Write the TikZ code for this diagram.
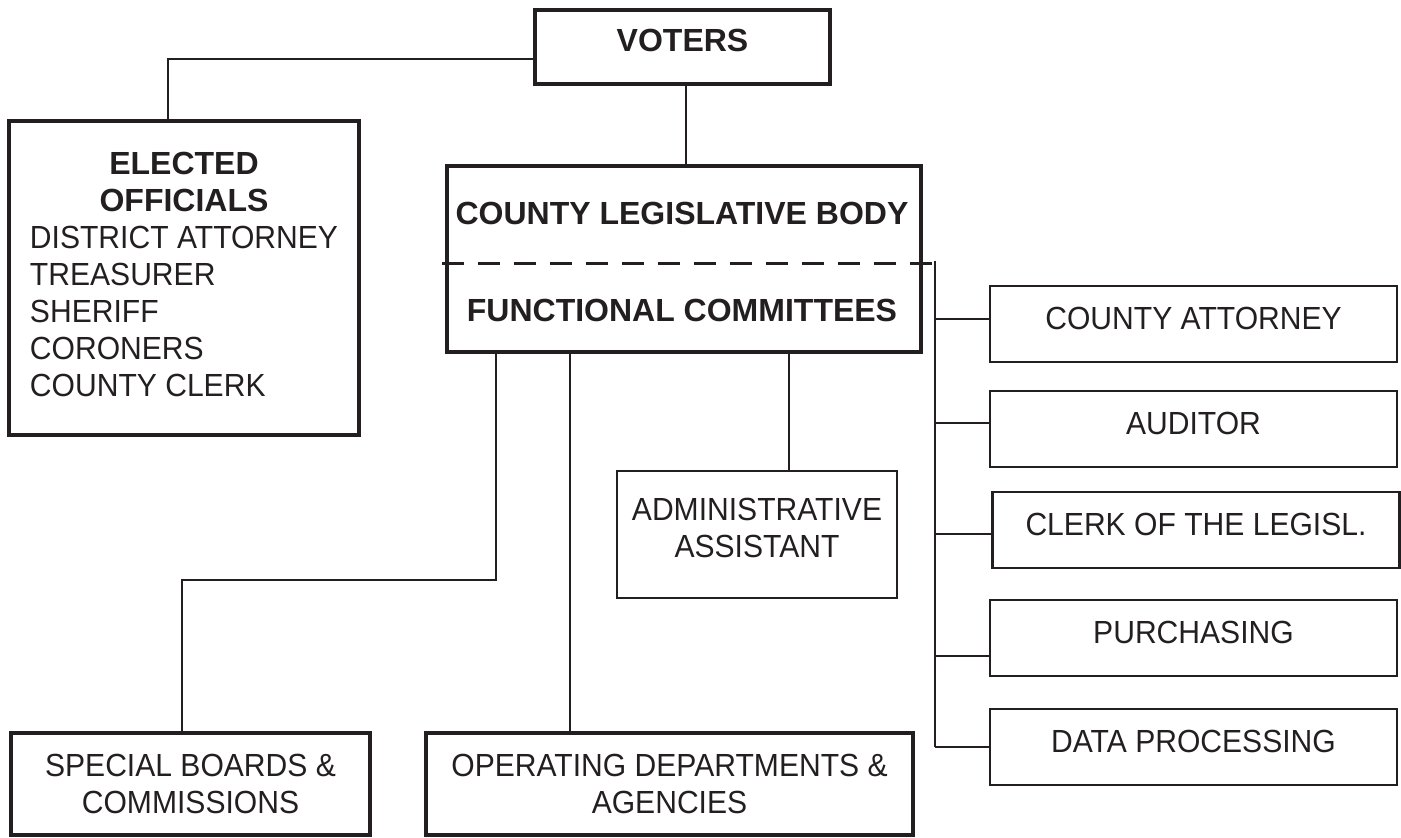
\documentclass[tikz,border=0pt]{standalone}
\usepackage{fontspec}
\setmainfont{Liberation Sans}[UprightFeatures={FakeStretch=0.94}]
\definecolor{ink}{RGB}{35,31,32}

\begin{document}
\begin{tikzpicture}[x=0.5pt, y=-0.5pt,
    every node/.style={font=\fontsize{16}{18.5}\selectfont, text=ink, inner sep=0pt},
    thickbox/.style={draw=ink, line width=2.3pt},
    thinbox/.style={draw=ink, line width=1.1pt},
    officebox/.style={thinbox, minimum width=203.5pt, minimum height=38pt, text depth=6pt},
    heading/.style={font=\fontsize{16}{18.5}\selectfont\bfseries},
    link/.style={draw=ink, line width=1.1pt}]
    \useasboundingbox (0,0) rectangle (1401,838);

    % Voters
    \node[thickbox, heading, minimum width=147.5pt, minimum height=37pt, text depth=7pt] (voters) at (682.5,47) {VOTERS};

    % Elected officials
    \node[thickbox, minimum width=175pt, minimum height=157pt] (elected) at (184,278) {%
        \begin{tabular}{@{}l@{}}
            \multicolumn{1}{@{}c@{}}{\fontsize{16}{18.5}\selectfont\bfseries ELECTED}\\
            \multicolumn{1}{@{}c@{}}{\fontsize{16}{18.5}\selectfont\bfseries OFFICIALS}\\
            DISTRICT ATTORNEY\\
            TREASURER\\
            SHERIFF\\
            CORONERS\\
            COUNTY CLERK
        \end{tabular}};

    % County legislative body
    \node[thickbox, minimum width=237pt, minimum height=93pt] (legis) at (684,259) {};
    \node[heading] (body) at (682,213) {COUNTY LEGISLATIVE BODY};
    \node[heading] (committees) at (682,310) {FUNCTIONAL COMMITTEES};

    % Dashed divider and staff line
    \coordinate (dashL) at (442,264);
    \coordinate (dashR) at (935,264);
    \coordinate (trunkT) at (935,261);
    \coordinate (trunkB) at (935,747);
    \draw[link, line width=1.5pt, dash pattern=on 11pt off 7pt] (dashL) -- (dashR);
    \draw[link] (trunkT) -- (trunkB);

    % Staff offices
    \node[officebox] (cattorney) at (1193.5,324) {COUNTY ATTORNEY};
    \node[officebox] (auditor) at (1193.5,429) {AUDITOR};
    \node[officebox] (clerk) at (1196,530) {CLERK OF THE LEGISL.};
    \node[officebox] (purchasing) at (1193.5,638) {PURCHASING};
    \node[officebox] (dataproc) at (1193.5,747) {DATA PROCESSING};

    % Administrative assistant
    \node[thinbox, align=center, minimum width=140pt, minimum height=63.5pt, text depth=7pt] (admin) at (757,534.5) {ADMINISTRATIVE\\ASSISTANT};

    % Boards and departments
    \node[thickbox, align=center, minimum width=179.5pt, minimum height=51pt] (boards) at (190.5,784) {SPECIAL BOARDS \&\\COMMISSIONS};
    \node[thickbox, align=center, minimum width=243.5pt, minimum height=51pt] (depts) at (669.5,784) {OPERATING DEPARTMENTS \&\\AGENCIES};

    % Connectors
    \draw[link] ([yshift=-6pt]voters.west) -| ([xshift=-8pt]elected.north);
    \draw[link] ([xshift=1.75pt]voters.south) -- ([xshift=1.75pt]legis.north -| voters.south);

    \coordinate (dropB) at (496,580);
    \coordinate (jogB) at (182,580);
    \coordinate (dropD) at (570,0);
    \coordinate (dropA) at (789,0);
    \draw[link] (legis.south -| dropB) -- (dropB) -- (jogB) -- (jogB |- boards.north);
    \draw[link] (legis.south -| dropD) -- (depts.north -| dropD);
    \draw[link] (legis.south -| dropA) -- (admin.north -| dropA);

    \draw[link] ([yshift=2.5pt]cattorney.west) -- ([yshift=2.5pt]cattorney.west -| trunkT);
    \draw[link] ([yshift=3pt]auditor.west) -- ([yshift=3pt]auditor.west -| trunkT);
    \draw[link] ([yshift=-2pt]clerk.west) -- ([yshift=-2pt]clerk.west -| trunkT);
    \draw[link] ([yshift=-9pt]purchasing.west) -- ([yshift=-9pt]purchasing.west -| trunkT);
    \draw[link] (dataproc.west) -- (dataproc.west -| trunkT);
\end{tikzpicture}
\end{document}
